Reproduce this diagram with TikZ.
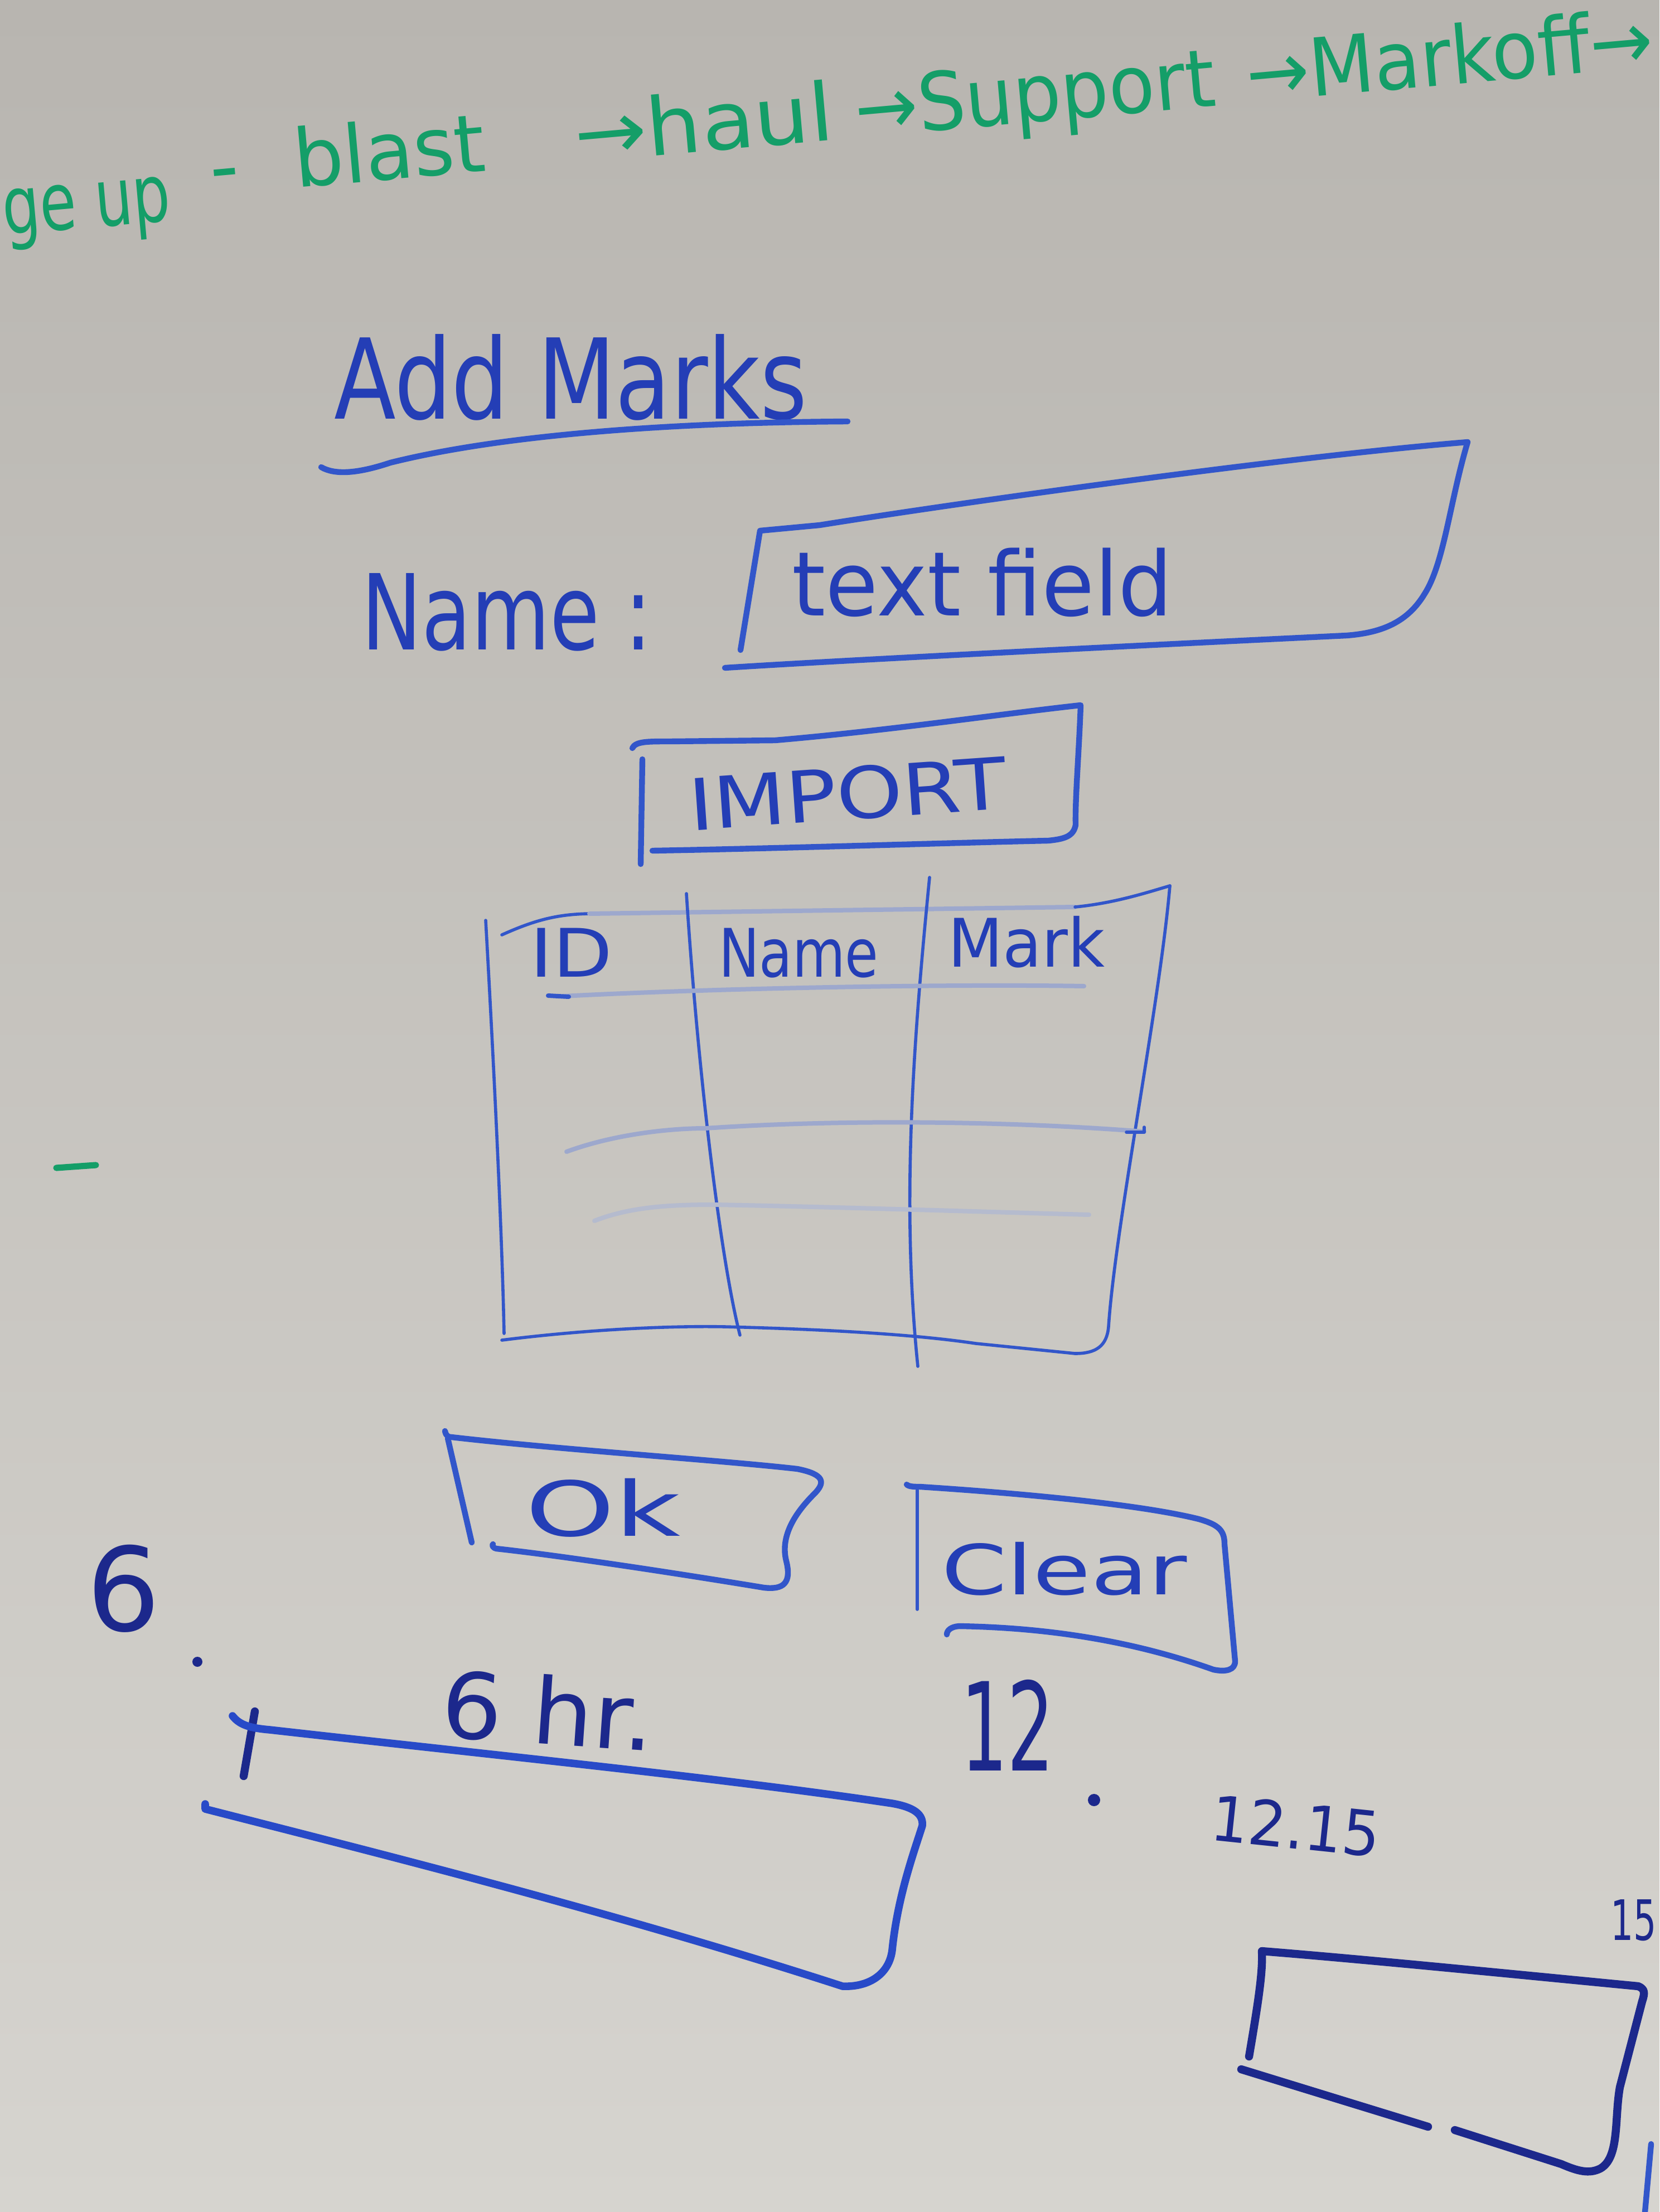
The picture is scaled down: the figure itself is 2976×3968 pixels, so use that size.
\documentclass[tikz,border=0pt]{standalone}
\usepackage{fontspec}
\setmainfont{DejaVu Sans}
\definecolor{board1}{RGB}{184,181,176}
\definecolor{board2}{RGB}{214,212,207}
\definecolor{mblue}{RGB}{50,86,202}
\definecolor{dblue}{RGB}{36,62,182}
\definecolor{navy}{RGB}{28,40,140}
\definecolor{bblue}{RGB}{40,74,200}
\definecolor{mgreen}{RGB}{20,158,104}
\newcommand\handsize[1]{\fontsize{#1}{#1}\selectfont}
\begin{document}
\begin{tikzpicture}[x=0.25pt,y=-0.25pt,
  mk/.style={draw=mblue,line width=2.6pt,line cap=round,line join=round},
  thinmk/.style={draw=mblue,line width=1.4pt,line cap=round,line join=round},
  faintline/.style={draw=mblue!35!board2,line width=2pt,line cap=round},
  fainterline/.style={draw=mblue!20!board2,line width=2pt,line cap=round},
  barmk/.style={draw=bblue,line width=3.4pt,line cap=round,line join=round},
  navymk/.style={draw=navy,line width=3.6pt,line cap=round,line join=round},
  greenmk/.style={draw=mgreen,line width=2.8pt,line cap=round},
  hand/.style={inner sep=0pt,outer sep=0pt,anchor=base west,text=dblue},
  navyhand/.style={hand,text=navy},
  greenhand/.style={hand,text=mgreen,rotate=5.1,font=\handsize{36}},
]
\useasboundingbox (0,0) rectangle (2976,3968);
\shade[top color=board1,bottom color=board2] (0,0) rectangle (2976,3968);

% green process line at the top
\node[greenhand,xscale=0.74] (g1) at (8,422) {ge up};
\node[greenhand] (g2) at (380,351) {-};
\node[greenhand,xscale=0.98] (g3) at (531,337) {blast};
\node[greenhand,xscale=1.08] (g4) at (1034,292) {→haul};
\node[greenhand,xscale=0.94] (g5) at (1537,247) {→Support};
\node[greenhand,xscale=0.94] (g6) at (2239,184) {→Markoff→};

% title
\node[hand,font=\handsize{50},xscale=0.81] (title) at (599,752) {Add Marks};
\draw[mk] (576,838) .. controls (600,852) and (640,850) .. (700,830) .. controls (900,780) and (1200,758) .. (1520,756);

% name field
\node[hand,font=\handsize{47},xscale=0.77] (namelbl) at (648,1165) {Name :};
\draw[mk] (1328,1166) -- (1363,952) -- (1470,942) .. controls (1700,905) and (2300,820) .. (2632,793) .. controls (2600,900) and (2590,1010) .. (2555,1065) .. controls (2525,1115) and (2480,1135) .. (2415,1140) .. controls (2000,1160) and (1500,1185) .. (1300,1198);
\node[hand,font=\handsize{40},xscale=0.96] (field) at (1420,1104) {text field};

% import button
\draw[mk] (1149,1550) -- (1152,1362);
\draw[mk] (1134,1342) .. controls (1140,1330) and (1160,1330) .. (1200,1330) -- (1390,1328) .. controls (1600,1310) and (1800,1280) .. (1938,1265) .. controls (1935,1350) and (1928,1430) .. (1929,1480) .. controls (1925,1500) and (1910,1505) .. (1880,1508) .. controls (1700,1512) and (1400,1522) .. (1170,1526);
\node[hand,font=\handsize{32},rotate=4,xscale=1.18] (import) at (1238,1490) {IMPORT};

% table
\draw[thinmk] (871,1651) .. controls (885,1900) and (900,2200) .. (904,2392);
\draw[thinmk] (900,1677) .. controls (960,1650) and (1000,1640) .. (1057,1639);
\draw[faintline] (1057,1639) -- (1928,1627);
\draw[thinmk] (1928,1627) .. controls (2000,1620) and (2060,1600) .. (2098,1589);
\draw[thinmk] (2098,1589) .. controls (2080,1800) and (2000,2200) .. (1988,2380) .. controls (1985,2415) and (1965,2428) .. (1928,2428);
\draw[thinmk] (900,2404) .. controls (1050,2385) and (1200,2378) .. (1300,2380) .. controls (1500,2385) and (1650,2395) .. (1750,2410) -- (1928,2428);
\draw[thinmk] (1231,1603) .. controls (1250,1900) and (1290,2250) .. (1327,2395);
\draw[thinmk] (1667,1574) .. controls (1640,1850) and (1615,2150) .. (1646,2451);
\draw[faintline] (1010,1787) .. controls (1300,1772) and (1700,1765) .. (1944,1769);
\draw[thinmk,line width=2pt] (983,1786) -- (1020,1788);
\draw[faintline] (1016,2066) .. controls (1100,2035) and (1200,2024) .. (1265,2024) .. controls (1500,2008) and (1800,2010) .. (2052,2030);
\draw[thinmk] (2020,2031) -- (2052,2031) -- (2052,2022);
\draw[fainterline] (1066,2190) .. controls (1130,2165) and (1200,2161) .. (1281,2161) .. controls (1500,2165) and (1800,2175) .. (1953,2179);
\node[hand,font=\handsize{30},xscale=1.16] (hid) at (950,1752) {ID};
\node[hand,font=\handsize{30},xscale=0.81] (hname) at (1289,1752) {Name};
\node[hand,font=\handsize{30},xscale=0.95] (hmark) at (1700,1734) {Mark};

% ok button
\draw[mk] (798,2567) .. controls (800,2577) and (805,2578) .. (810,2578) .. controls (1000,2600) and (1300,2620) .. (1430,2635) .. controls (1480,2645) and (1480,2660) .. (1460,2680) .. controls (1420,2720) and (1400,2760) .. (1410,2800) .. controls (1420,2840) and (1405,2852) .. (1370,2848) .. controls (1200,2820) and (1000,2790) .. (890,2778) .. controls (884,2777) and (882,2772) .. (884,2770);
\draw[mk] (803,2580) -- (846,2767);
\node[hand,font=\handsize{34},xscale=1.5] (ok) at (942,2755) {Ok};

% clear button
\draw[mk] (1626,2663) .. controls (1630,2667) and (1640,2667) .. (1650,2667) .. controls (1850,2680) and (2050,2700) .. (2150,2725) .. controls (2185,2735) and (2196,2745) .. (2196,2770) -- (2215,2980) .. controls (2215,2995) and (2200,3000) .. (2176,2995) .. controls (2050,2950) and (1900,2920) .. (1720,2917) .. controls (1705,2918) and (1698,2925) .. (1698,2932);
\draw[thinmk] (1645,2673) -- (1645,2887);
\node[hand,font=\handsize{31},xscale=1.36] (clear) at (1688,2860) {Clear};

% timeline notes
\node[navyhand,font=\handsize{52}] (six) at (155,2925) {6};
\fill[navy] (354,2981) circle (9);
\node[navyhand,font=\handsize{41},rotate=-4,xscale=1.05] (sixhr) at (788,3115) {6 hr.};
\draw[navymk] (457,3070) -- (437,3186);
\draw[barmk] (417,3078) .. controls (430,3095) and (450,3100) .. (484,3103) .. controls (900,3150) and (1300,3190) .. (1600,3235) .. controls (1640,3242) and (1656,3255) .. (1654,3275) .. controls (1640,3320) and (1610,3400) .. (1600,3498) .. controls (1595,3540) and (1560,3565) .. (1511,3563) .. controls (1100,3430) and (700,3330) .. (368,3245) -- (368,3236);

\node[navyhand,font=\handsize{55},xscale=0.6] (twelve) at (1723,3176) {12};
\fill[navy] (1962,3229) circle (11);
\node[navyhand,font=\handsize{28},rotate=-6,xscale=0.95] (twelvefifteen) at (2168,3300) {12.15};
\node[navyhand,font=\handsize{25},xscale=0.65] (fifteen) at (2888,3480) {15};

% last box
\draw[navymk] (2240,3689) .. controls (2255,3600) and (2265,3540) .. (2263,3500) .. controls (2450,3515) and (2700,3540) .. (2938,3563) .. controls (2950,3568) and (2950,3575) .. (2945,3590) -- (2905,3744) .. controls (2895,3800) and (2905,3870) .. (2870,3890) .. controls (2850,3900) and (2830,3895) .. (2800,3882) -- (2609,3821);
\draw[navymk] (2226,3712) -- (2561,3815);
\draw[mk] (2961,3846) -- (2950,3968);

% stray green dash
\draw[greenmk] (101,2095) -- (172,2090);
\end{tikzpicture}
\end{document}
